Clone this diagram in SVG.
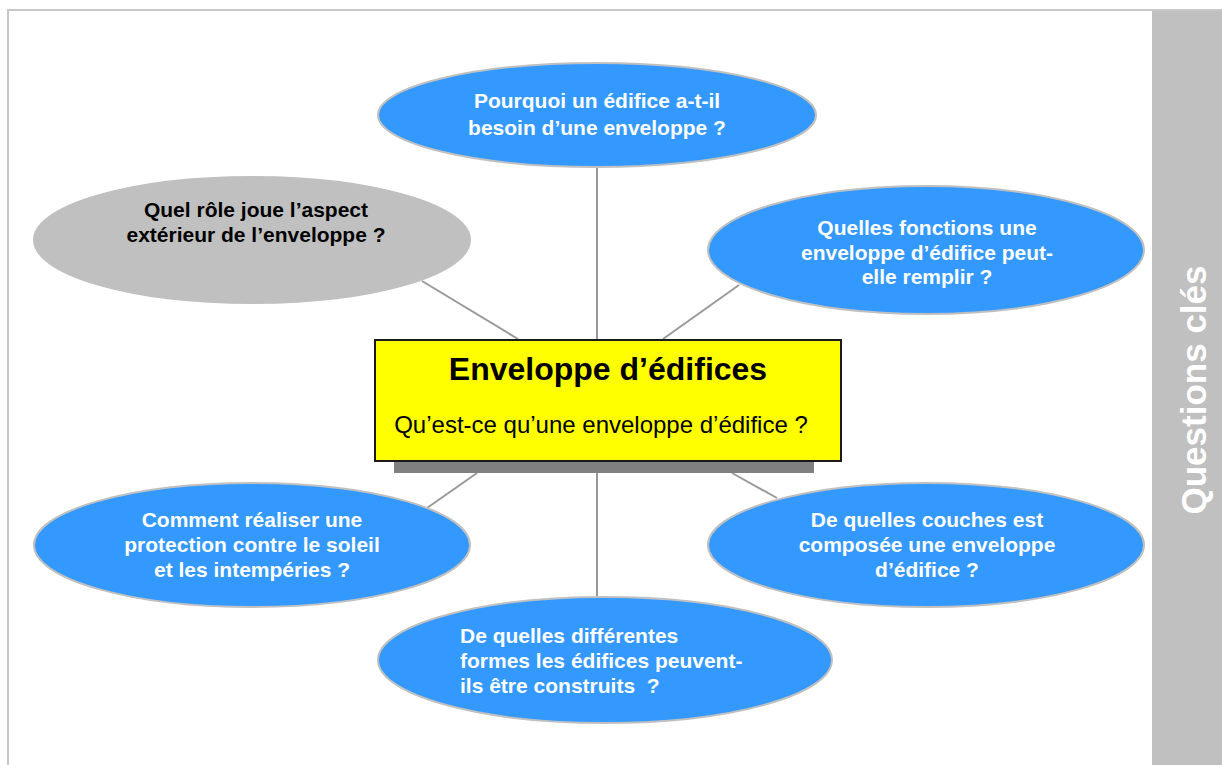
<svg xmlns="http://www.w3.org/2000/svg" width="1222" height="765" viewBox="0 0 1222 765">
  <style>
    .q { fill: #3399FF; stroke: #C0C0C0; stroke-width: 2; }
    .g { fill: #C0C0C0; stroke: #C0C0C0; stroke-width: 2; }
    .t { font-family: "Liberation Sans", Arial, sans-serif; font-weight: bold; font-size: 21px; fill: #FFFFFF; text-anchor: middle; }
    .tl { text-anchor: start; }
    .tk { fill: #000000; }
    .c { stroke: #999999; stroke-width: 2; fill: none; }
  </style>
  <rect x="0" y="0" width="1222" height="765" fill="#FFFFFF"/>
  <rect x="8" y="10" width="1230" height="770" fill="none" stroke="#C8C8C8" stroke-width="2"/>
  <g id="sidebar">
    <rect x="1152" y="11" width="70" height="754" fill="#C0C0C0"/>
    <text x="0" y="0" transform="translate(1206,390) rotate(-90)" font-family="Liberation Sans, Arial, sans-serif" font-weight="bold" font-size="35" fill="#FFFFFF" text-anchor="middle">Questions clés</text>
  </g>
  <g id="connectors">
    <line class="c" x1="597" y1="167" x2="597" y2="339"/>
    <line class="c" x1="422" y1="281" x2="518" y2="339"/>
    <line class="c" x1="739" y1="285" x2="663" y2="339"/>
    <line class="c" x1="477" y1="473" x2="427" y2="508"/>
    <line class="c" x1="597" y1="473" x2="597" y2="597"/>
    <line class="c" x1="732" y1="473" x2="777" y2="498"/>
  </g>
  <g id="center">
    <rect x="394" y="400" width="420" height="73" fill="#808080"/>
    <rect x="375" y="340" width="466" height="121" fill="#FFFF00" stroke="#1A1A1A" stroke-width="2"/>
    <text x="608" y="380" font-family="Liberation Sans, Arial, sans-serif" font-weight="bold" font-size="32" fill="#000000" text-anchor="middle">Enveloppe d’édifices</text>
    <text x="601" y="433" font-family="Liberation Sans, Arial, sans-serif" font-size="24" fill="#000000" text-anchor="middle">Qu’est-ce qu’une enveloppe d’édifice ?</text>
  </g>
  <g id="q-top">
    <ellipse class="q" cx="597" cy="115" rx="219" ry="52"/>
    <text class="t" x="597" y="108">Pourquoi un édifice a-t-il</text>
    <text class="t" x="597" y="135">besoin d’une enveloppe ?</text>
  </g>
  <g id="q-aspect">
    <ellipse class="g" cx="252" cy="240" rx="218" ry="63"/>
    <text class="t tk" x="256" y="217">Quel rôle joue l’aspect</text>
    <text class="t tk" x="256" y="242">extérieur de l’enveloppe ?</text>
  </g>
  <g id="q-fonctions">
    <ellipse class="q" cx="926" cy="250" rx="218" ry="64"/>
    <text class="t" x="927" y="235">Quelles fonctions une</text>
    <text class="t" x="927" y="260">enveloppe d’édifice peut-</text>
    <text class="t" x="927" y="284">elle remplir ?</text>
  </g>
  <g id="q-protection">
    <ellipse class="q" cx="252" cy="545" rx="218" ry="62"/>
    <text class="t" x="252" y="527">Comment réaliser une</text>
    <text class="t" x="252" y="552">protection contre le soleil</text>
    <text class="t" x="252" y="577">et les intempéries ?</text>
  </g>
  <g id="q-couches">
    <ellipse class="q" cx="926" cy="545" rx="218" ry="62"/>
    <text class="t" x="927" y="527">De quelles couches est</text>
    <text class="t" x="927" y="552">composée une enveloppe</text>
    <text class="t" x="927" y="577">d’édifice ?</text>
  </g>
  <g id="q-formes">
    <ellipse class="q" cx="605" cy="660" rx="227" ry="63"/>
    <text class="t tl" x="460" y="643">De quelles différentes</text>
    <text class="t tl" x="460" y="668">formes les édifices peuvent-</text>
    <text class="t tl" x="460" y="693">ils être construits&#160; ?</text>
  </g>
</svg>
